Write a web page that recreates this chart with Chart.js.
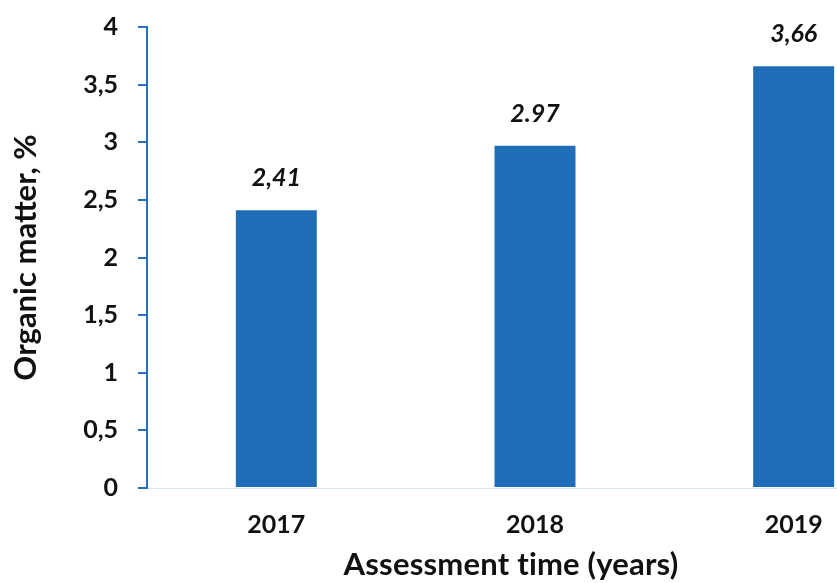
<!DOCTYPE html>
<html>
<head>
<meta charset="utf-8">
<script src="https://cdn.jsdelivr.net/npm/chart.js@4.4.1/dist/chart.umd.min.js"></script>
<style>
  html, body { margin: 0; padding: 0; background: #ffffff; overflow: hidden; }
  #wrap { position: absolute; left: 0; top: 0; width: 930px; height: 583px; }
</style>
</head>
<body>
<div id="wrap"><canvas id="chart"></canvas></div>
<script>
// Soil organic matter by assessment year
const years = ['2017', '2018', '2019'];
const organicMatter = [2.41, 2.97, 3.66];
const valueLabels = ['2,41', '2.97', '3,66'];
const yTickLabels = ['0', '0,5', '1', '1,5', '2', '2,5', '3', '3,5', '4'];

const barBlue = '#1f6db7';
const axisBlue = '#2a6fbd';
const textColor = '#111111';
const family = 'Lato, "Open Sans", sans-serif';

// Italic value labels above each bar
const valueLabelPlugin = {
  id: 'valueLabels',
  afterDatasetsDraw(chart) {
    const ctx = chart.ctx;
    const meta = chart.getDatasetMeta(0);
    ctx.save();
    ctx.font = 'italic 700 25px ' + family;
    ctx.fillStyle = textColor;
    ctx.textAlign = 'center';
    ctx.textBaseline = 'alphabetic';
    meta.data.forEach((bar, i) => {
      ctx.fillText(valueLabels[i], bar.x, bar.y - 24);
    });
    ctx.restore();
  }
};

// Horizontal axis title, placed under the visible part of the axis
const xTitlePlugin = {
  id: 'xTitle',
  afterDraw(chart) {
    const ctx = chart.ctx;
    const area = chart.chartArea;
    ctx.save();
    ctx.font = '700 31px ' + family;
    if ('letterSpacing' in ctx) ctx.letterSpacing = '0.2px';
    ctx.fillStyle = textColor;
    ctx.textAlign = 'center';
    ctx.textBaseline = 'alphabetic';
    ctx.fillText('Assessment time (years)', area.left + 364, area.bottom + 87);
    ctx.restore();
  }
};

new Chart(document.getElementById('chart'), {
  type: 'bar',
  data: {
    labels: years,
    datasets: [{
      data: organicMatter,
      backgroundColor: barBlue,
      borderWidth: 0,
      categoryPercentage: 1,
      barPercentage: 0.313
    }]
  },
  options: {
    responsive: true,
    maintainAspectRatio: false,
    animation: false,
    layout: { padding: { top: 27, right: 7, bottom: 0, left: 0 } },
    plugins: {
      legend: { display: false },
      tooltip: { enabled: false }
    },
    scales: {
      x: {
        grid: { display: false, drawTicks: false },
        border: { display: true, color: '#d9e5f2', width: 1 },
        ticks: {
          padding: 22,
          color: textColor,
          font: { family: family, size: 25, weight: '700' }
        },
        afterFit(scale) { scale.height = 95; }
      },
      y: {
        min: 0,
        max: 4,
        grid: {
          display: true,
          drawOnChartArea: false,
          drawTicks: true,
          tickLength: 9,
          color: axisBlue,
          lineWidth: 2
        },
        border: { display: true, color: axisBlue, width: 2 },
        ticks: {
          stepSize: 0.5,
          padding: 20,
          color: textColor,
          font: { family: family, size: 25, weight: '700' },
          callback: (value, index) => yTickLabels[index]
        },
        title: {
          display: true,
          text: 'Organic matter, %',
          color: textColor,
          font: { family: family, size: 31, weight: '700' },
          padding: { top: 7, bottom: 0 }
        },
        afterFit(scale) {
          scale.width = 147;
          scale.paddingTop = 0;
          scale.paddingBottom = 0;
        }
      }
    }
  },
  plugins: [valueLabelPlugin, xTitlePlugin]
});
</script>
</body>
</html>
